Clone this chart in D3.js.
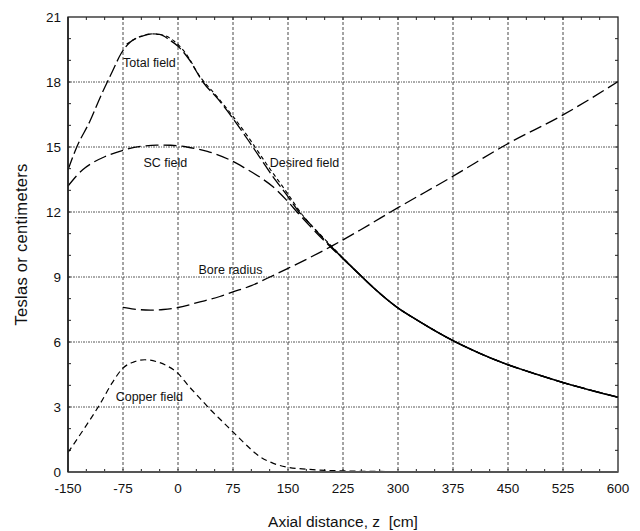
<!DOCTYPE html>
<html>
<head>
<meta charset="utf-8">
<script src="https://cdn.jsdelivr.net/npm/d3@7"></script>
<style>
  body { margin: 0; background: #fff; }
  text { font-family: "Liberation Sans", Arial, sans-serif; fill: #111; }
</style>
</head>
<body>
<div id="chart_container"></div>
<script>
// values: [z (cm), value]
var totalField = [[-150,13.95],[-138,15.0],[-120,16.2],[-106,17.3],[-90,18.45],[-77,19.35],[-65,19.85],[-50,20.1],[-35,20.22],
    [-25,20.2],[-11,19.93],[0,19.65],[15,19.05],[34,18.0],[55,17.2],[73,16.4],[96,15.3],[112,14.5],[128,13.7],[148,12.8],
    [165,12.0],[180,11.45],[207,10.46],[225,9.86],[248,9.1],[270,8.4],[298,7.62],[330,6.93],[374,6.08],[410,5.5],
    [449,4.96],[490,4.5],[525,4.13],[560,3.8],[600,3.45]];
var scField = [[-150,13.2],[-130,13.95],[-115,14.3],[-100,14.55],[-75,14.85],[-50,15.03],[-29,15.09],[-10,15.08],[12,15.0],
    [40,14.8],[71,14.4],[90,14.05],[112,13.6],[130,13.15],[148,12.55],[165,11.9],[180,11.35],[207,10.42],[225,9.84],
    [248,9.1],[270,8.4],[298,7.62],[330,6.93],[374,6.08],[410,5.5],[449,4.96],[490,4.5],[525,4.13],[560,3.8],[600,3.45]];
var desiredField = [[-70,19.75],[-50,20.12],[-35,20.22],[-20,20.16],[-5,19.88],[10,19.35],[30,18.25],[50,17.45],[73,16.5],
    [96,15.45],[120,14.25],[148,12.92],[170,11.85],[200,10.75],[225,9.88],[248,9.1],[270,8.4],[298,7.62],[330,6.93],
    [374,6.08],[410,5.5],[449,4.96],[490,4.5],[525,4.13],[560,3.8],[600,3.45]];
var boreRadius = [[-75,7.6],[-60,7.52],[-38,7.47],[-20,7.5],[-2,7.58],[30,7.85],[57,8.1],[74,8.3],[100,8.6],[121,8.93],
    [150,9.4],[180,9.9],[212,10.47],[248,11.16],[300,12.2],[374,13.63],[449,15.14],[525,16.48],[600,18.02]];
var copperField = [[-150,0.9],[-130,1.9],[-106,3.16],[-90,4.1],[-75,4.8],[-60,5.08],[-45,5.18],[-30,5.1],[-15,4.9],[0,4.55],
    [15,3.95],[30,3.4],[45,2.85],[60,2.35],[75,1.85],[90,1.35],[112,0.7],[130,0.4],[148,0.23],[184,0.11],[225,0.05],
    [300,0.02],[400,0.01],[600,0.0]];

var xTicks = [-150,-75,0,75,150,225,300,375,450,525,600];
var yTicks = [0,3,6,9,12,15,18,21];

var labels = [
    {text: "Total field", z: -75, v: 18.7},
    {text: "SC field", z: -47, v: 14.1},
    {text: "Desired field", z: 125, v: 14.1},
    {text: "Bore radius", z: 28, v: 9.15},
    {text: "Copper field", z: -85, v: 3.3}
];

var chart_width = 640, chart_height = 531;
var margin = {top: 17, right: 22, bottom: 59, left: 68};
var width = chart_width - margin.left - margin.right;
var height = chart_height - margin.top - margin.bottom;

var svg = d3.select("#chart_container").append("svg")
            .attr("width", chart_width)
            .attr("height", chart_height);

var g = svg.append("g").attr("transform", "translate(" + margin.left + "," + margin.top + ")");

var x = d3.scaleLinear().domain([-150, 600]).range([0, width]);
var y = d3.scaleLinear().domain([0, 21]).range([height, 0]);

// grid
g.selectAll(".vgrid")
    .data(xTicks.filter(function(d){ return d > -150 && d < 600; }))
    .enter().append("line")
    .attr("x1", function(d){ return x(d); }).attr("x2", function(d){ return x(d); })
    .attr("y1", 0).attr("y2", height)
    .style("stroke", "#333").style("stroke-width", 0.9).style("stroke-dasharray", "3,2");

g.selectAll(".hgrid")
    .data(yTicks.filter(function(d){ return d > 0 && d < 21; }))
    .enter().append("line")
    .attr("x1", 0).attr("x2", width)
    .attr("y1", function(d){ return y(d); }).attr("y2", function(d){ return y(d); })
    .style("stroke", "#444").style("stroke-width", 0.9).style("stroke-dasharray", "2,1,1,1");

// minor ticks on all sides
var xMinor = d3.range(-125, 600, 25);
var yMinor = d3.range(1, 21, 1);
g.selectAll(".xmb").data(xMinor).enter().append("line")
    .attr("x1", function(d){ return x(d); }).attr("x2", function(d){ return x(d); })
    .attr("y1", height).attr("y2", height - 3).style("stroke", "#222");
g.selectAll(".xmt").data(xMinor).enter().append("line")
    .attr("x1", function(d){ return x(d); }).attr("x2", function(d){ return x(d); })
    .attr("y1", 0).attr("y2", 3).style("stroke", "#222");
g.selectAll(".yml").data(yMinor).enter().append("line")
    .attr("x1", 0).attr("x2", 3)
    .attr("y1", function(d){ return y(d); }).attr("y2", function(d){ return y(d); }).style("stroke", "#222");
g.selectAll(".ymr").data(yMinor).enter().append("line")
    .attr("x1", width).attr("x2", width - 3)
    .attr("y1", function(d){ return y(d); }).attr("y2", function(d){ return y(d); }).style("stroke", "#222");

// curves
var line = d3.line()
    .x(function(d){ return x(d[0]); })
    .y(function(d){ return y(d[1]); })
    .curve(d3.curveMonotoneX);

function drawCurve(data, dash, w) {
    g.append("path")
        .datum(data)
        .attr("d", line)
        .style("fill", "none")
        .style("stroke", "#000")
        .style("stroke-width", w)
        .style("stroke-dasharray", dash);
}

drawCurve(copperField, "6,4", 1.2);
drawCurve(boreRadius, "13,5", 1.3);
drawCurve(scField, "13,5", 1.3);
drawCurve(desiredField, "4,3", 1.1);
drawCurve(totalField, "13,4", 1.3);
// where the fields coincide the reference shows one solid line
drawCurve(totalField.filter(function(d){ return d[0] >= 207; }), null, 1.5);

// frame
g.append("rect")
    .attr("width", width).attr("height", height)
    .style("fill", "none").style("stroke", "#222").style("stroke-width", 1.3);
g.append("line").attr("x1", 0).attr("x2", width).attr("y1", height).attr("y2", height)
    .style("stroke", "#555").style("stroke-width", 2.2);
g.append("line").attr("x1", 0).attr("x2", 0).attr("y1", 0).attr("y2", height)
    .style("stroke", "#222").style("stroke-width", 1.6);

// tick labels
g.selectAll(".xlab").data(xTicks).enter().append("text")
    .attr("x", function(d){ return x(d); })
    .attr("y", height + 21)
    .attr("text-anchor", "middle")
    .style("font-size", "13.5px")
    .text(function(d){ return d; });

g.selectAll(".ylab").data(yTicks).enter().append("text")
    .attr("x", -7)
    .attr("y", function(d){ return y(d) + 5; })
    .attr("text-anchor", "end")
    .style("font-size", "13.5px")
    .text(function(d){ return d; });

// curve labels
g.selectAll(".clab").data(labels).enter().append("text")
    .attr("x", function(d){ return x(d.z); })
    .attr("y", function(d){ return y(d.v); })
    .style("font-size", "12.5px")
    .text(function(d){ return d.text; });

// axis titles
svg.append("text")
    .attr("x", margin.left + width / 2)
    .attr("y", 527)
    .attr("text-anchor", "middle")
    .style("font-size", "15.5px")
    .style("white-space", "pre")
    .text("Axial distance, z  [cm]");

svg.append("text")
    .attr("transform", "translate(27," + (margin.top + height / 2) + ") rotate(-90)")
    .attr("text-anchor", "middle")
    .style("font-size", "16.5px")
    .style("letter-spacing", "0.3px")
    .text("Teslas or centimeters");
</script>
</body>
</html>
